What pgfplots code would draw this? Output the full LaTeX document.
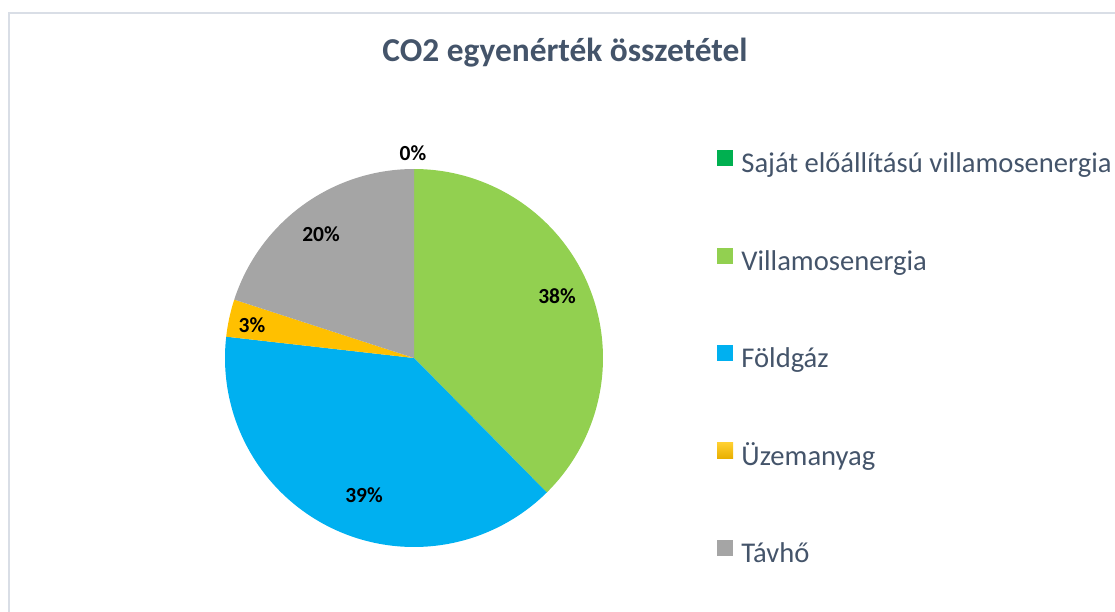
\documentclass[border=0pt]{standalone}
\usepackage{fontspec}
\setmainfont{Carlito}
\usepackage{pgfplots}
\pgfplotsset{compat=1.18}
\usepackage{pgfplotstable}
\definecolor{cSajat}{HTML}{00B050}
\definecolor{cVill}{HTML}{92D050}
\definecolor{cGaz}{HTML}{00B0F0}
\definecolor{cUzem}{HTML}{FFC000}
\definecolor{cUzemTop}{HTML}{FFD030}
\definecolor{cUzemBot}{HTML}{E8AE00}
\definecolor{cTav}{HTML}{A5A5A5}
\definecolor{cText}{HTML}{44546A}
\definecolor{cFrame}{HTML}{D9DEE6}
% shares in percent (start angle 90 deg, clockwise)
\pgfplotstableread{
name value
Sajat 0.0
Villamosenergia 37.6
Foldgaz 39.2
Uzemanyag 3.2
Tavho 20.0
}\piedata
\begin{document}
\begin{tikzpicture}
\begin{axis}[
  x=1bp, y=1bp, xmin=0, xmax=1115, ymin=0, ymax=612,
  hide axis, clip=false, scale only axis,
  legend style={at={(axis cs:717,462)}, anchor=north west, draw=none, fill=none,
    inner sep=0pt, row sep=68bp, column sep=0pt,
    nodes={inner sep=0pt, text height=20bp, text depth=7bp, text=cText,
      font=\fontsize{28.6bp}{34bp}\selectfont}},
  legend cell align=left,
  legend image code/.code={\fill[#1, draw=none] (0bp,0bp) rectangle (16bp,16bp); \path (24bp,-6bp);},
]
% pie slices: angles from the shares (1% = 3.6 deg)
\addplot[fill=cVill, draw=none, domain=-45.36:90, samples=120, variable=\t, forget plot]
  ({414+189*cos(\t)},{254+189*sin(\t)}) -- (axis cs:414,254) -- cycle;
\addplot[fill=cGaz, draw=none, domain=-186.48:-45.36, samples=120, variable=\t, forget plot]
  ({414+189*cos(\t)},{254+189*sin(\t)}) -- (axis cs:414,254) -- cycle;
\addplot[fill=cUzem, draw=none, domain=-198:-186.48, samples=20, variable=\t, forget plot]
  ({414+189*cos(\t)},{254+189*sin(\t)}) -- (axis cs:414,254) -- cycle;
\addplot[fill=cTav, draw=none, domain=-270:-198, samples=80, variable=\t, forget plot]
  ({414+189*cos(\t)},{254+189*sin(\t)}) -- (axis cs:414,254) -- cycle;
% legend
\addlegendimage{fill=cSajat}
\addlegendentry{Saját előállítású villamosenergia}
\addlegendimage{fill=cVill}
\addlegendentry{Villamosenergia}
\addlegendimage{fill=cGaz}
\addlegendentry{Földgáz}
\addlegendimage{top color=cUzemTop, bottom color=cUzemBot}
\addlegendentry{Üzemanyag}
\addlegendimage{fill=cTav}
\addlegendentry{Távhő}
% frame
\draw[cFrame, line width=1.5bp] (axis cs:9,0) -- (axis cs:9,599) -- (axis cs:1115,599);
% title
\node[anchor=base, text=cText, font=\fontsize{33.4bp}{40bp}\selectfont\bfseries] at (axis cs:565,550) {CO2 egyenérték összetétel};
% data labels
\begin{scope}[every node/.style={font=\fontsize{21.5bp}{25bp}\selectfont\bfseries, text=black, inner sep=0pt}]
\node at (axis cs:413,459) {0\%};
\node at (axis cs:557,316) {38\%};
\node at (axis cs:364,117) {39\%};
\node at (axis cs:252,287) {3\%};
\node at (axis cs:321,378) {20\%};
\end{scope}
\end{axis}
\pgfresetboundingbox
\path[use as bounding box] (0,0) rectangle (1115bp,612bp);
\end{tikzpicture}
\end{document}
